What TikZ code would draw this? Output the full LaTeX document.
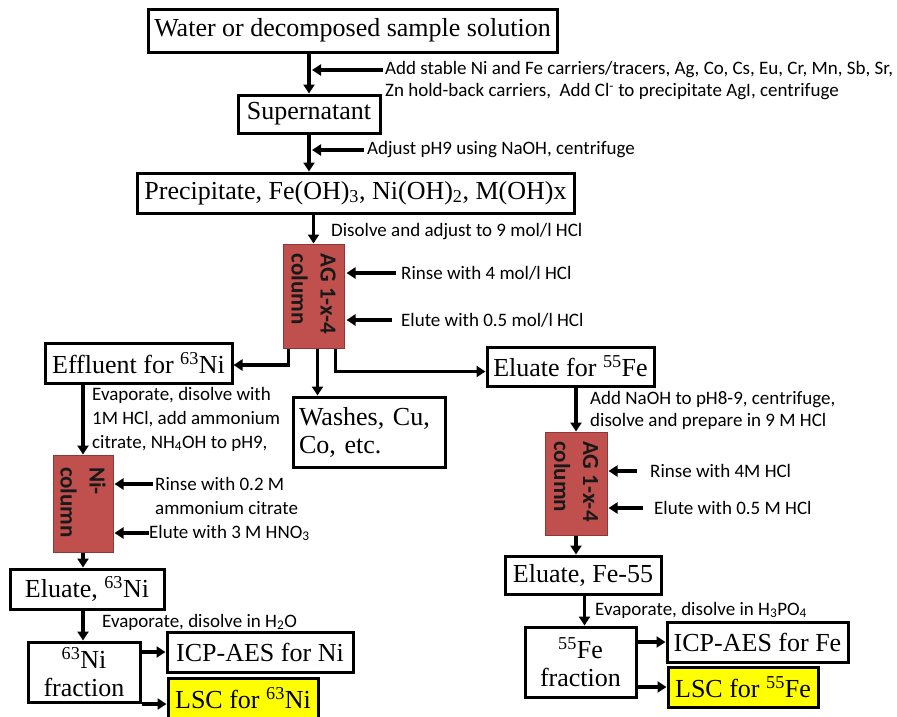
\documentclass[tikz,border=0pt]{standalone}
\usepackage{fontspec}
\setmainfont{Liberation Serif}
\newfontfamily\calib{Carlito}
\usetikzlibrary{arrows.meta}
\definecolor{colred}{HTML}{C0504D}
\definecolor{colborder}{HTML}{8C3836}
\definecolor{lscyellow}{HTML}{FFFF00}
\begin{document}
\begin{tikzpicture}[x=1pt,y=-1pt,
 box/.style={draw=black, line width=3pt, fill=white, inner sep=0pt, font=\fontsize{26}{28}\selectfont, align=center},
 lsc/.style={box, fill=lscyellow},
 col/.style={draw=colborder, line width=1pt, fill=colred, inner sep=0pt},
 coltext/.style={rotate=-90, font=\calib\bfseries\fontsize{23}{29}\selectfont, align=left, inner sep=0pt, text=black!90},
 note/.style={font=\calib\fontsize{19}{22}\selectfont, inner sep=1pt, anchor=west},
 arr/.style={line width=3.2pt, -{Triangle[length=9pt,width=11pt]}},
]
\useasboundingbox (0,0) rectangle (897,716);
\clip (0,0) rectangle (897,716);

% main boxes
\node[box, minimum width=409pt, minimum height=43pt] (water) at (352.5,30.5) {Water or decomposed sample solution};
\node[box, minimum width=142pt, minimum height=38pt] (super) at (309,114) {Supernatant};
\node[box, minimum width=437pt, minimum height=40pt] (precip) at (355.5,193) {Precipitate, Fe(OH)\textsubscript{3}, Ni(OH)\textsubscript{2}, M(OH)x};
\node[col, minimum width=61pt, minimum height=104pt] (ag1) at (313.5,296) {};
\node[coltext] (ag1t) at ([yshift=2pt]ag1.center) {AG 1-x-4\\column};

\node[box, minimum width=187pt, minimum height=40pt] (effl) at (138.5,363) {Effluent for \textsuperscript{63}Ni};
\node[box, minimum width=152pt, minimum height=70pt, align=left, text width=140pt] (washes) at (369,432) {Washes, Cu,\\Co, etc.};
\node[box, minimum width=167pt, minimum height=39pt] (eluFe) at (570.5,366.5) {Eluate for \textsuperscript{55}Fe};

% right branch
\node[col, minimum width=62pt, minimum height=103pt] (ag2) at (576,483.5) {};
\node[coltext] (ag2t) at ([yshift=2pt]ag2.center) {AG 1-x-4\\column};
\node[box, minimum width=156pt, minimum height=38pt] (eluFe55) at (583,575) {Eluate, Fe-55};
\node[box, minimum width=111pt, minimum height=70pt] (frFe) at (580.5,662) {\textsuperscript{55}Fe\\fraction};
\node[box, minimum width=181pt, minimum height=40pt] (icpFe) at (757.5,642) {ICP-AES for Fe};
\node[lsc, minimum width=150pt, minimum height=40pt] (lscFe) at (743,687) {LSC for \textsuperscript{55}Fe};

% left branch
\node[col, minimum width=60pt, minimum height=97pt] (nicol) at (83,503.5) {};
\node[coltext] (nicolt) at ([yshift=1pt]nicol.center) {Ni-\\column};
\node[box, minimum width=154pt, minimum height=40pt] (eluNi) at (87,589) {Eluate, \textsuperscript{63}Ni};
\node[box, minimum width=112pt, minimum height=60pt] (frNi) at (84,672) {\textsuperscript{63}Ni\\fraction};
\node[box, minimum width=186pt, minimum height=40pt] (icpNi) at (260,652) {ICP-AES for Ni};
\node[lsc, minimum width=150pt, minimum height=40pt] (lscNi) at (243,698) {LSC for \textsuperscript{63}Ni};

% notes
\node[note] (n1a) at (384,70) {Add stable Ni and Fe carriers/tracers, Ag, Co, Cs, Eu, Cr, Mn, Sb, Sr,};
\node[note] (n1b) at (384,92) {Zn hold-back carriers,\ \ Add Cl\textsuperscript{-} to precipitate AgI, centrifuge};
\node[note] (n2) at (366,150) {Adjust pH9 using NaOH, centrifuge};
\node[note] (n3) at (330,232) {Disolve and adjust to 9 mol/l HCl};
\node[note] (n4) at (400,273) {Rinse with 4 mol/l HCl};
\node[note] (n5) at (400,320) {Elute with 0.5 mol/l HCl};
\node[note] (n6a) at (91,395) {Evaporate, disolve with};
\node[note] (n6b) at (91,419) {1M HCl, add ammonium};
\node[note] (n6c) at (91,443) {citrate, NH\textsubscript{4}OH to pH9,};
\node[note] (n7a) at (154,484) {Rinse with 0.2 M};
\node[note] (n7b) at (154,508) {ammonium citrate};
\node[note] (n8) at (148,533) {Elute with 3 M HNO\textsubscript{3}};
\node[note] (n9) at (101,622) {Evaporate, disolve in H\textsubscript{2}O};
\node[note] (n10a) at (589,400) {Add NaOH to pH8-9, centrifuge,};
\node[note] (n10b) at (589,421) {disolve and prepare in 9 M HCl};
\node[note] (n11) at (649,471) {Rinse with 4M HCl};
\node[note] (n12) at (653,508) {Elute with 0.5 M HCl};
\node[note] (n13) at (594,610) {Evaporate, disolve in H\textsubscript{3}PO\textsubscript{4}};

% main flow
\draw[arr] (super.north |- water.south) -- (super.north);
\draw[arr] (super.south) -- (super.south |- precip.north);
\draw[arr] (ag1.north |- precip.south) -- (ag1.north);
\draw[arr] ([xshift=-25pt]ag1.south) |- ([yshift=-2pt]effl.east);
\draw[arr] ([xshift=4pt]ag1.south) -- ([xshift=4pt]ag1.south |- washes.north);
\draw[arr] ([xshift=22pt]ag1.south) |- ([yshift=-5pt]eluFe.west);

\draw[arr] (ag2.north |- eluFe.south) -- (ag2.north);
\draw[arr] (ag2.south) -- (ag2.south |- eluFe55.north);
\draw[arr] ([xshift=4pt]frFe.north |- eluFe55.south) -- ([xshift=4pt]frFe.north);
\draw[arr] (frFe.east |- icpFe.west) -- (icpFe.west);
\draw[arr] (frFe.east |- lscFe.west) -- (lscFe.west);

\draw[arr] (nicol.north |- effl.south) -- (nicol.north);
\draw[arr] (nicol.south) -- (nicol.south |- eluNi.north);
\draw[arr] ([xshift=-1pt]frNi.north |- eluNi.south) -- ([xshift=-1pt]frNi.north);
\draw[arr] (frNi.east |- icpNi.west) -- (icpNi.west);
\draw[arr] ([yshift=-6pt]frNi.east |- lscNi.west) -- ([yshift=-6pt]lscNi.west);

% side arrows
\draw[arr] ([xshift=-1pt]n1a.west) -- ([xshift=3pt]super.north |- n1a.west);
\draw[arr] ([xshift=-2pt]n2.west) -- ([xshift=3pt]super.south |- n2.west);
\draw[arr] ([xshift=-4pt]n4.west) -- ([xshift=2pt]ag1.east |- n4.west);
\draw[arr] ([xshift=-8pt]n5.west) -- ([xshift=2pt]ag1.east |- n5.west);
\draw[arr] ([xshift=-1pt]n7a.west) -- ([xshift=1pt]nicol.east |- n7a.west);
\draw[arr] ([xshift=1pt]n8.west) -- ([xshift=1pt]nicol.east |- n8.west);
\draw[arr] ([xshift=-12pt]n11.west) -- ([xshift=1pt]ag2.east |- n11.west);
\draw[arr] ([xshift=-10pt]n12.west) -- ([xshift=1pt]ag2.east |- n12.west);
\end{tikzpicture}
\end{document}
